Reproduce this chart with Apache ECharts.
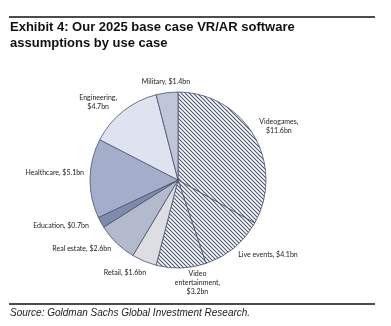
<!DOCTYPE html>
<html><head><meta charset="utf-8">
<script src="https://cdn.jsdelivr.net/npm/echarts@6/dist/echarts.min.js"></script>
<style>html,body{margin:0;padding:0;background:#fff}#c{width:391px;height:326px}</style>
</head><body><div id="c"></div>
<script>
var categories = ['Videogames', 'Live events', 'Video entertainment', 'Retail', 'Real estate', 'Education', 'Healthcare', 'Engineering', 'Military'];
var values = [11.6, 4.1, 3.2, 1.6, 2.6, 0.7, 5.1, 4.7, 1.4];
var labelTexts = ['Videogames,\n$11.6bn', 'Live events, $4.1bn', 'Video\nentertainment,\n$3.2bn', 'Retail, $1.6bn', 'Real estate, $2.6bn', 'Education, $0.7bn', 'Healthcare, $5.1bn', 'Engineering,\n$4.7bn', 'Military, $1.4bn'];

var hatch = document.createElement('canvas');
hatch.width = 4; hatch.height = 4;
var hc = hatch.getContext('2d');
hc.fillStyle = '#ffffff'; hc.fillRect(0,0,4,4);
hc.strokeStyle = '#4a5575'; hc.lineWidth = 1.1;
hc.beginPath();
hc.moveTo(-1,-1); hc.lineTo(5,5);
hc.moveTo(-1,3); hc.lineTo(1,5);
hc.moveTo(3,-1); hc.lineTo(5,1);
hc.stroke();
var hatchFill = {image: hatch, repeat: 'repeat'};

var fills = [hatchFill, hatchFill, hatchFill, '#dcdee3', '#b3bacc', '#7f8bab', '#a4adca', '#dee3ef', '#c0c6d8'];
var aligns = ['center','left','center','right','right','right','right','center','center'];
var labelShift = [[13,-5],[-6,1],[11,7],[10,4],[5,0],[0,0],[7,-6],[-15,-3],[5,-3]];

var chart = echarts.init(document.getElementById('c'), null, {renderer:'canvas'});
chart.setOption({
  backgroundColor: '#ffffff',
  animation: false,
  graphic: [
    {type:'line', shape:{x1:9,y1:17,x2:375,y2:17}, style:{stroke:'#111', lineWidth:1.5}},
    {type:'text', left:10, top:19, style:{text:'Exhibit 4: Our 2025 base case VR/AR software\nassumptions by use case', font:'bold 13px "Liberation Sans", Arial, sans-serif', fill:'#111', lineHeight:16}},
    {type:'line', shape:{x1:9,y1:304,x2:375,y2:304}, style:{stroke:'#111', lineWidth:1.5}},
    {type:'text', left:10, top:308, style:{text:'Source: Goldman Sachs Global Investment Research.', font:'italic 10px "Liberation Sans", Arial, sans-serif', fill:'#222'}}
  ],
  series: [{
    type: 'pie',
    center: [178, 180],
    radius: 88,
    startAngle: 90,
    clockwise: true,
    silent: true,
    label: {show:true, position:'outside', alignTo:'none', fontSize:7, fontFamily:'Lato', color:'#222', lineHeight:9},
    labelLine: {show:false, length:8, length2:0},
    labelLayout: function(p){
      var i = p.dataIndex;
      return {dx: labelShift[i][0], dy: labelShift[i][1], align: aligns[i]};
    },
    itemStyle: {borderColor:'#4a5270', borderWidth:0.8},
    data: categories.map(function(c,i){
      return {name:c, value:values[i], itemStyle:{color:fills[i]}, label:{formatter:labelTexts[i]}};
    })
  }]
});
</script></body></html>
